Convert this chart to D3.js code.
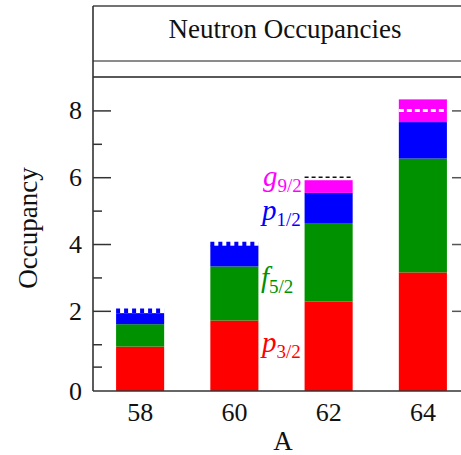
<!DOCTYPE html>
<html>
<head>
<meta charset="utf-8">
<script src="https://cdn.jsdelivr.net/npm/d3@7"></script>
<style>
  body { margin: 0; background: #fff; }
  svg { display: block; }
  text { font-family: "Liberation Serif", "DejaVu Serif", serif; fill: #111; }
</style>
</head>
<body>
<svg id="chart" width="461" height="455"></svg>
<script>
// Neutron occupancies of the valence orbitals for the Ni isotopes
const massNumbers = [58, 60, 62, 64];
const p32 = [0.93, 1.71, 2.28, 3.15];
const f52 = [0.67, 1.62, 2.35, 3.41];
const p12 = [0.33, 0.62, 0.90, 1.09];
const g92 = [0.00, 0.00, 0.38, 0.68];
const valenceNeutrons = [2, 4, 6, 8];

const orbitalKeys = ["p32", "f52", "p12", "g92"];
const orbitalNames = [["p", "3/2"], ["f", "5/2"], ["p", "1/2"], ["g", "9/2"]];
const orbitalColors = ["#ff0000", "#009100", "#0000ff", "#ff00ff"];

const xTickValues = [58, 60, 62, 64];
const yTickValues = [2, 4, 6, 8];
const yMinorTickValues = [0.33, 1, 3, 5, 7];
const yFloorLabel = "0";

const title = "Neutron Occupancies";
const xTitle = "A";
const yTitle = "Occupancy";

// ---- layout ----
const W = 461, H = 455;
const plot = { left: 93, right: 470, top: 77, bottom: 391 };
const titleBox = { top: 6, bottom: 61 };

const svg = d3.select("#chart");

const x = d3.scaleLinear().domain([57, 65]).range([plot.left, plot.right]);
const y = d3.scaleLinear().domain([-0.4, 9]).range([plot.bottom, plot.top]);
const yFloor = y.domain()[0];
const halfBar = 0.51;

// table for the stack layout
const rows = massNumbers.map((a, i) => ({ A: a, p32: p32[i], f52: f52[i], p12: p12[i], g92: g92[i] }));
const stacked = d3.stack().keys(orbitalKeys)(rows);

// ---- bars ----
const barG = svg.append("g");
stacked.forEach((layer, li) => {
  barG.selectAll(null)
    .data(layer.filter(d => d[1] - d[0] > 0))
    .join("rect")
    .attr("x", d => x(d.data.A - halfBar))
    .attr("width", d => x(d.data.A + halfBar) - x(d.data.A - halfBar))
    .attr("y", d => y(d[1]))
    .attr("height", d => (li === 0 ? y(yFloor) : y(d[0])) - y(d[1]))
    .attr("fill", orbitalColors[li]);
});

// dashed marks for the number of valence neutrons
const capStyle = [
  { color: "#0000ff", width: 4.5, dash: "4,4" },
  { color: "#0000ff", width: 4.5, dash: "4,4" },
  { color: "#111111", width: 1.4, dash: "4,3" },
  { color: "#ffffff", width: 3, dash: "5,3" }
];
svg.append("g").selectAll("line")
  .data(massNumbers.map((a, i) => ({ A: a, n: valenceNeutrons[i], s: capStyle[i] })))
  .join("line")
  .attr("x1", d => x(d.A - halfBar))
  .attr("x2", d => x(d.A + halfBar))
  .attr("y1", d => y(d.n))
  .attr("y2", d => y(d.n))
  .attr("stroke", d => d.s.color)
  .attr("stroke-width", d => d.s.width)
  .attr("stroke-dasharray", d => d.s.dash);

// ---- frame ----
const frame = svg.append("g").attr("fill", "none");
frame.append("line").attr("x1", plot.left).attr("x2", W + 20)
  .attr("y1", titleBox.top).attr("y2", titleBox.top).attr("stroke", "#444").attr("stroke-width", 1.5);
frame.append("line").attr("x1", plot.left).attr("x2", W + 20)
  .attr("y1", titleBox.bottom).attr("y2", titleBox.bottom).attr("stroke", "#666").attr("stroke-width", 1.5);
frame.append("line").attr("x1", plot.left).attr("x2", W + 20)
  .attr("y1", plot.top).attr("y2", plot.top).attr("stroke", "#222").attr("stroke-width", 1.5);
frame.append("line").attr("x1", plot.left).attr("x2", plot.left)
  .attr("y1", titleBox.top).attr("y2", plot.bottom).attr("stroke", "#333").attr("stroke-width", 1.6);
frame.append("line").attr("x1", plot.left).attr("x2", W + 20)
  .attr("y1", plot.bottom).attr("y2", plot.bottom).attr("stroke", "#333").attr("stroke-width", 1.6);

// ---- y axis (left) ----
const yAxisL = d3.axisRight(y).tickValues(yTickValues).tickSize(18).tickFormat("");
const gL = svg.append("g").attr("transform", `translate(${plot.left},0)`).call(yAxisL);
gL.select(".domain").remove();
gL.selectAll(".tick line").attr("stroke", "#333").attr("stroke-width", 1.5);

const yAxisLm = d3.axisRight(y).tickValues(yMinorTickValues).tickSize(9).tickFormat("");
const gLm = svg.append("g").attr("transform", `translate(${plot.left},0)`).call(yAxisLm);
gLm.select(".domain").remove();
gLm.selectAll(".tick line").attr("stroke", "#333").attr("stroke-width", 1.5);

// ---- y axis (right) ----
const yAxisR = d3.axisLeft(y).tickValues(yTickValues).tickSize(18).tickFormat("");
const gR = svg.append("g").attr("transform", `translate(${plot.right},0)`).call(yAxisR);
gR.select(".domain").remove();
gR.selectAll(".tick line").attr("stroke", "#555").attr("stroke-width", 1.5);

// y tick labels
const yLabels = svg.append("g").attr("font-size", 26).attr("text-anchor", "end");
yLabels.selectAll("text")
  .data(yTickValues.map(v => ({ v, t: String(v) })).concat([{ v: yFloor, t: yFloorLabel }]))
  .join("text")
  .attr("x", 82)
  .attr("y", d => y(d.v) + 9)
  .text(d => d.t);

// x tick labels
svg.append("g").attr("font-size", 26).attr("text-anchor", "middle")
  .selectAll("text").data(xTickValues).join("text")
  .attr("x", d => x(d))
  .attr("y", 421)
  .text(d => d);

// axis titles
svg.append("text").attr("x", 283).attr("y", 450).attr("font-size", 27)
  .attr("text-anchor", "middle").text(xTitle);
svg.append("text").attr("transform", "translate(37,228) rotate(-90)")
  .attr("font-size", 27).attr("text-anchor", "middle").text(yTitle);

// chart title
svg.append("text").attr("x", 285).attr("y", 38).attr("font-size", 27)
  .attr("text-anchor", "middle").text(title);

// orbital labels beside the A = 62 column
const labelBaselines = [352, 287, 220, 186];
const labelX = [262, 261, 262, 263];
const lab = svg.append("g");
orbitalNames.forEach((nm, i) => {
  const t = lab.append("text")
    .attr("x", labelX[i]).attr("y", labelBaselines[i])
    .style("fill", orbitalColors[i]);
  t.append("tspan").attr("font-size", 29).attr("font-style", "italic").text(nm[0]);
  t.append("tspan").attr("font-size", 19).attr("dy", 6).text(nm[1]);
});
</script>
</body>
</html>
